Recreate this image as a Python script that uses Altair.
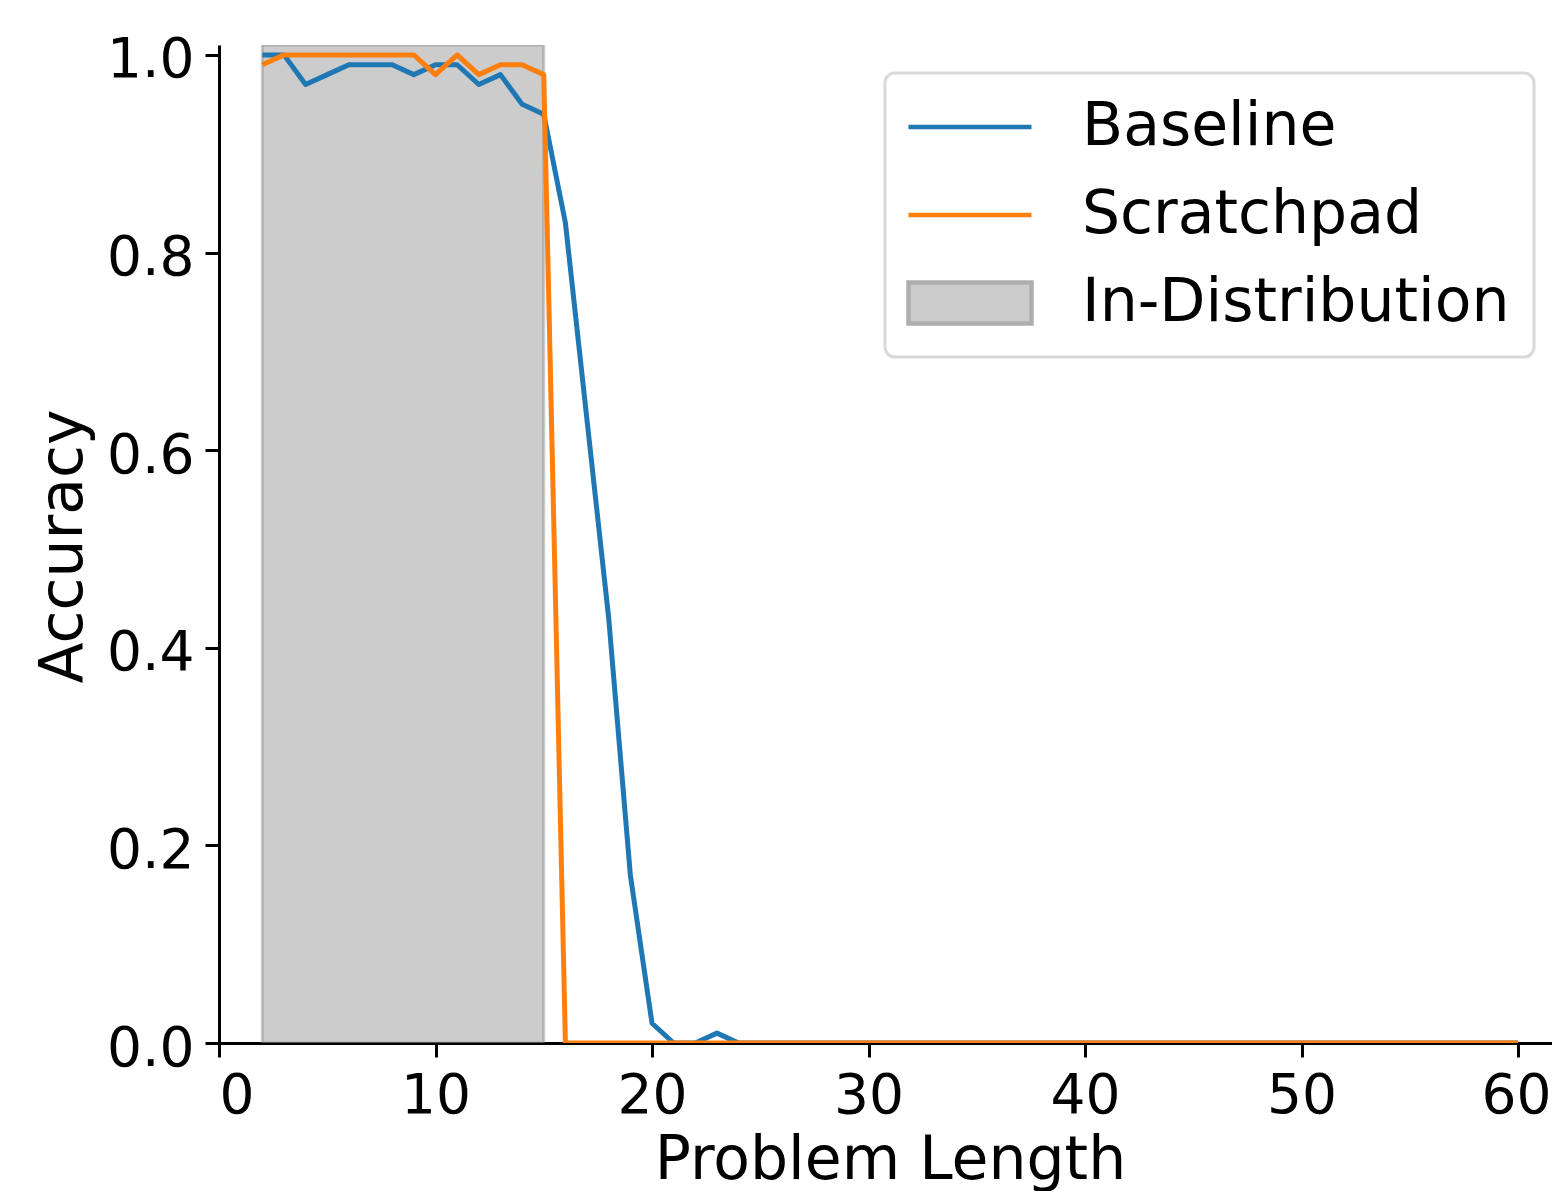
import altair as alt
import pandas as pd

lengths = list(range(2, 61))
baseline = [1.0, 1.0, 0.97, 0.98, 0.99, 0.99, 0.99, 0.98, 0.99, 0.99, 0.97, 0.98, 0.95, 0.94,
            0.83, 0.63, 0.43, 0.17, 0.02, 0.0, 0.0, 0.01] + [0.0] * 37
scratchpad = [0.99, 1.0, 1.0, 1.0, 1.0, 1.0, 1.0, 1.0, 0.98, 1.0, 0.98, 0.99, 0.99, 0.98] + [0.0] * 45
series_names = ["Baseline", "Scratchpad", "In-Distribution"]
span_start = [2]
span_end = [15]
span_lo = [0.0]
span_hi = [1.01]

BLUE = "#1f77b4"
ORANGE = "#ff7f0e"
FONT = "DejaVu Sans"

df = pd.DataFrame({
    "length": lengths * 2,
    "accuracy": baseline + scratchpad,
    "series": ["Baseline"] * len(lengths) + ["Scratchpad"] * len(lengths),
})
span = pd.DataFrame({"start": span_start, "end": span_end, "lo": span_lo, "hi": span_hi})

W, H = 1333, 998
xscale = alt.Scale(domain=[0, 61.57], nice=False, zero=False)
yscale = alt.Scale(domain=[0, 1.01], nice=False)

xaxis = alt.Axis(values=[0, 10, 20, 30, 40, 50, 60], format="d", title="Problem Length",
                 titleX=671, titleY=135, titleBaseline="alphabetic", titleAlign="center",
                 labelOffset=alt.condition("datum.value == 60", alt.value(-2), alt.value(0)))
yaxis = alt.Axis(values=[0, 0.2, 0.4, 0.6, 0.8, 1.0], format=".1f", title="Accuracy",
                 titleX=-156, titleY=501, titleAlign="center", titleBaseline="middle",
                 titleAngle=270, labelOffset=5)

rect = alt.Chart(span).mark_rect(
    fill="gray", fillOpacity=0.4, stroke="gray", strokeOpacity=0.4, strokeWidth=3, clip=True
).encode(
    x=alt.X("start:Q", scale=xscale, axis=xaxis),
    x2="end:Q",
    y=alt.Y("lo:Q", scale=yscale, axis=yaxis),
    y2="hi:Q",
)

color = alt.Color("series:N", scale=alt.Scale(domain=["Baseline", "Scratchpad"], range=[BLUE, ORANGE]),
                  legend=None)

def line_layer(name):
    return alt.Chart(df).transform_filter(alt.datum.series == name).mark_line(
        strokeWidth=5, clip=True, strokeJoin="round"
    ).encode(
        x=alt.X("length:Q", scale=xscale),
        y=alt.Y("accuracy:Q", scale=yscale),
        color=color,
    )

leg = alt.Legend(
    title=None, orient="none", legendX=666, legendY=28,
    labelFontSize=60, labelFont=FONT, labelColor="black", labelLimit=1000,
    labelOffset=82, symbolOffset=31, symbolSize=1681, symbolStrokeWidth=4.5,
    symbolOpacity=1, rowPadding=28, padding=24,
    strokeColor="#d9d9d9", fillColor="white", cornerRadius=10,
)
LINE_PATH = "M-3,0H3"
RECT_PATH = "M-3,-1H3V1H-3Z"

legend_layer = alt.Chart(df).mark_point(opacity=0, strokeWidth=4.5).encode(
    x=alt.X("length:Q", scale=xscale),
    y=alt.Y("accuracy:Q", scale=yscale),
    stroke=alt.Stroke("series:N", scale=alt.Scale(domain=series_names, range=[BLUE, ORANGE, "#aeaeae"]),
                      legend=leg),
    fill=alt.Fill("series:N", scale=alt.Scale(domain=series_names,
                                               range=["transparent", "transparent", "#cccccc"]),
                  legend=leg),
    shape=alt.Shape("series:N", scale=alt.Scale(domain=series_names,
                                                 range=[LINE_PATH, LINE_PATH, RECT_PATH]),
                    legend=leg),
)

chart = alt.layer(rect, line_layer("Baseline"), line_layer("Scratchpad"), legend_layer).properties(
    width=W, height=H,
    autosize=alt.AutoSizeParams(type="none"),
    padding={"left": 211, "top": 37, "right": 0, "bottom": 148},
).configure_view(stroke=None).configure_axis(
    labelFont=FONT, labelFontSize=55, labelColor="black",
    titleFont=FONT, titleFontSize=60, titleColor="black", titleFontWeight="normal",
    domainColor="black", domainWidth=3, tickColor="black", tickWidth=3, tickSize=14,
    grid=False, zindex=1,
).configure_axisX(labelPadding=12).configure_axisY(labelPadding=11).configure_legend(
    strokeWidth=3
)

chart.save("out.html", embed_options={"renderer": "svg", "actions": False})
